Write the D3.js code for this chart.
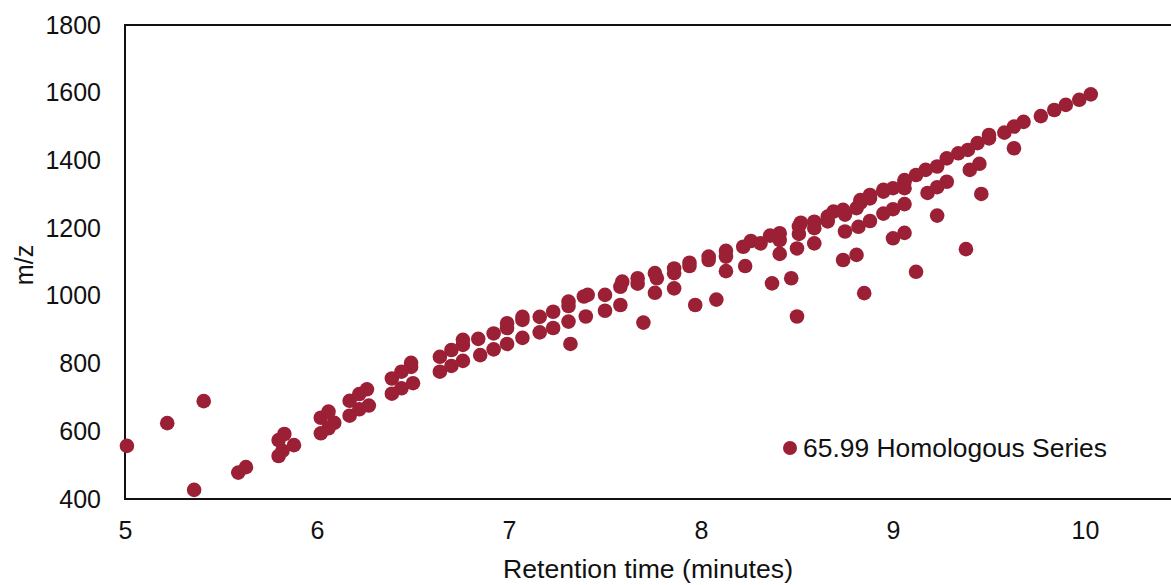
<!DOCTYPE html>
<html>
<head>
<meta charset="utf-8">
<script src="https://cdn.jsdelivr.net/npm/d3@7"></script>
<style>
  html, body { margin: 0; padding: 0; background: #fff; overflow: hidden; }
  svg { display: block; font-family: "Liberation Sans", Arial, sans-serif; }
</style>
</head>
<body>
<svg id="chart" width="1171" height="585"></svg>
<script>
// Retention time (minutes) and m/z of each detected member of the series
const retentionTime = [
  5.01, 5.22, 5.41, 5.36, 5.59, 5.63, 5.80, 5.80, 5.83, 5.88, 5.82,
  6.02, 6.06, 6.09, 6.02, 6.06, 6.17, 6.22, 6.26, 6.17, 6.22, 6.27,
  6.39, 6.44, 6.49, 6.49, 6.39, 6.44, 6.50, 6.64, 6.70, 6.76, 6.76,
  6.64, 6.70, 6.76, 6.84, 6.92, 6.99, 6.99, 7.07, 7.07, 7.16, 7.23,
  6.85, 6.92, 6.99, 7.07, 7.16, 7.23, 7.31, 7.31, 7.31, 7.32, 7.39,
  7.41, 7.40, 7.50, 7.50, 7.58, 7.59, 7.58, 7.67, 7.67, 7.70, 7.76,
  7.77, 7.76, 7.86, 7.86, 7.86, 7.94, 7.94, 7.97, 8.04, 8.04, 8.08,
  8.13, 8.13, 8.13, 8.22, 8.23, 8.26, 8.31, 8.36, 8.41, 8.41, 8.41,
  8.37, 8.47, 8.50, 8.51, 8.52, 8.51, 8.50, 8.59, 8.59, 8.59, 8.66,
  8.66, 8.69, 8.74, 8.75, 8.75, 8.74, 8.81, 8.83, 8.83, 8.82, 8.81,
  8.85, 8.88, 8.88, 8.88, 8.95, 8.95, 8.95, 9.00, 9.00, 9.00, 9.06,
  9.06, 9.06, 9.06, 9.06, 9.12, 9.12, 9.17, 9.18, 9.23, 9.23, 9.23,
  9.28, 9.28, 9.34, 9.39, 9.40, 9.38, 9.44, 9.45, 9.46, 9.50, 9.50,
  9.58, 9.63, 9.63, 9.68, 9.77, 9.84, 9.90, 9.97, 10.03
];
const mz = [
  557, 624, 689, 427, 478, 494, 527, 574, 592, 559, 542,
  640, 658, 625, 594, 609, 690, 710, 724, 646, 665, 676,
  756, 776, 802, 790, 711, 727, 742, 820, 840, 855, 870,
  776, 793, 808, 873, 889, 919, 905, 929, 938, 938, 953,
  825, 842, 858, 876, 892, 905, 983, 970, 924, 858, 998,
  1003, 939, 1003, 956, 1027, 1042, 973, 1052, 1036, 921, 1067,
  1052, 1009, 1081, 1067, 1022, 1098, 1088, 973, 1116, 1106, 989,
  1133, 1116, 1073, 1145, 1088, 1162, 1155, 1178, 1185, 1165, 1124,
  1037, 1052, 939, 1205, 1216, 1183, 1140, 1219, 1200, 1155, 1234,
  1220, 1249, 1254, 1240, 1190, 1106, 1259, 1275, 1283, 1204, 1121,
  1008, 1288, 1298, 1221, 1308, 1313, 1243, 1318, 1256, 1170, 1342,
  1337, 1318, 1271, 1186, 1357, 1071, 1372, 1304, 1382, 1321, 1237,
  1406, 1337, 1421, 1431, 1372, 1138, 1451, 1390, 1301, 1475, 1465,
  1482, 1500, 1436, 1514, 1531, 1549, 1564, 1579, 1595
];

const xTicks = [5, 6, 7, 8, 9, 10];
const yTicks = [400, 600, 800, 1000, 1200, 1400, 1600, 1800];
const seriesName = "65.99 Homologous Series";
const xTitle = "Retention time (minutes)";
const yTitle = "m/z";

const color = "#9b2036";
const ink = "#111";
const svg = d3.select("#chart");

// Plot area; the x axis runs to 10.5, slightly past the window's right edge
const plotLeft = 125, plotTop = 25, plotBottom = 499;
const x = d3.scaleLinear().domain([5, 10.5]).range([plotLeft, plotLeft + 5.5 * 192]);
const y = d3.scaleLinear().domain([400, 1800]).range([plotBottom, plotTop]);

// Frame around the plot area
svg.append("rect")
  .attr("x", x(5)).attr("y", y(1800))
  .attr("width", x(10.5) - x(5)).attr("height", y(400) - y(1800))
  .attr("fill", "none").attr("stroke", ink).attr("stroke-width", 2);

// Axes: labels only, no tick marks
const xAxis = d3.axisBottom(x).tickValues(xTicks).tickSize(0).tickPadding(22).tickFormat(d3.format("d"));
const gx = svg.append("g").attr("transform", `translate(0,${plotBottom})`).call(xAxis);
gx.select(".domain").remove();
gx.selectAll("text").attr("font-size", 25).attr("fill", ink)
  .attr("font-family", "'Liberation Sans', Arial, sans-serif");

const yAxis = d3.axisLeft(y).tickValues(yTicks).tickSize(0).tickPadding(24).tickFormat(d3.format("d"));
const gy = svg.append("g").attr("transform", `translate(${plotLeft},0)`).call(yAxis);
gy.select(".domain").remove();
gy.selectAll("text").attr("font-size", 25).attr("fill", ink)
  .attr("font-family", "'Liberation Sans', Arial, sans-serif");

// Points
const points = retentionTime.map((t, i) => ({ t, m: mz[i] }));
svg.append("g")
  .selectAll("circle")
  .data(points)
  .join("circle")
  .attr("cx", d => x(d.t))
  .attr("cy", d => y(d.m))
  .attr("r", 7.3)
  .attr("fill", color);

// Axis titles
svg.append("text")
  .attr("x", 648).attr("y", 578)
  .attr("text-anchor", "middle")
  .attr("font-size", 25).attr("fill", ink)
  .attr("textLength", 290).attr("lengthAdjust", "spacingAndGlyphs")
  .text(xTitle);

svg.append("text")
  .attr("transform", "translate(33,265) rotate(-90)")
  .attr("text-anchor", "middle")
  .attr("font-size", 25).attr("fill", ink)
  .text(yTitle);

// Legend
const legend = svg.append("g").attr("transform", "translate(790,448)");
legend.append("circle").attr("r", 7).attr("fill", color);
legend.append("text")
  .attr("x", 13).attr("y", 0).attr("dy", "0.35em")
  .attr("font-size", 25).attr("fill", ink)
  .attr("textLength", 304).attr("lengthAdjust", "spacingAndGlyphs")
  .text(seriesName);
</script>
</body>
</html>
